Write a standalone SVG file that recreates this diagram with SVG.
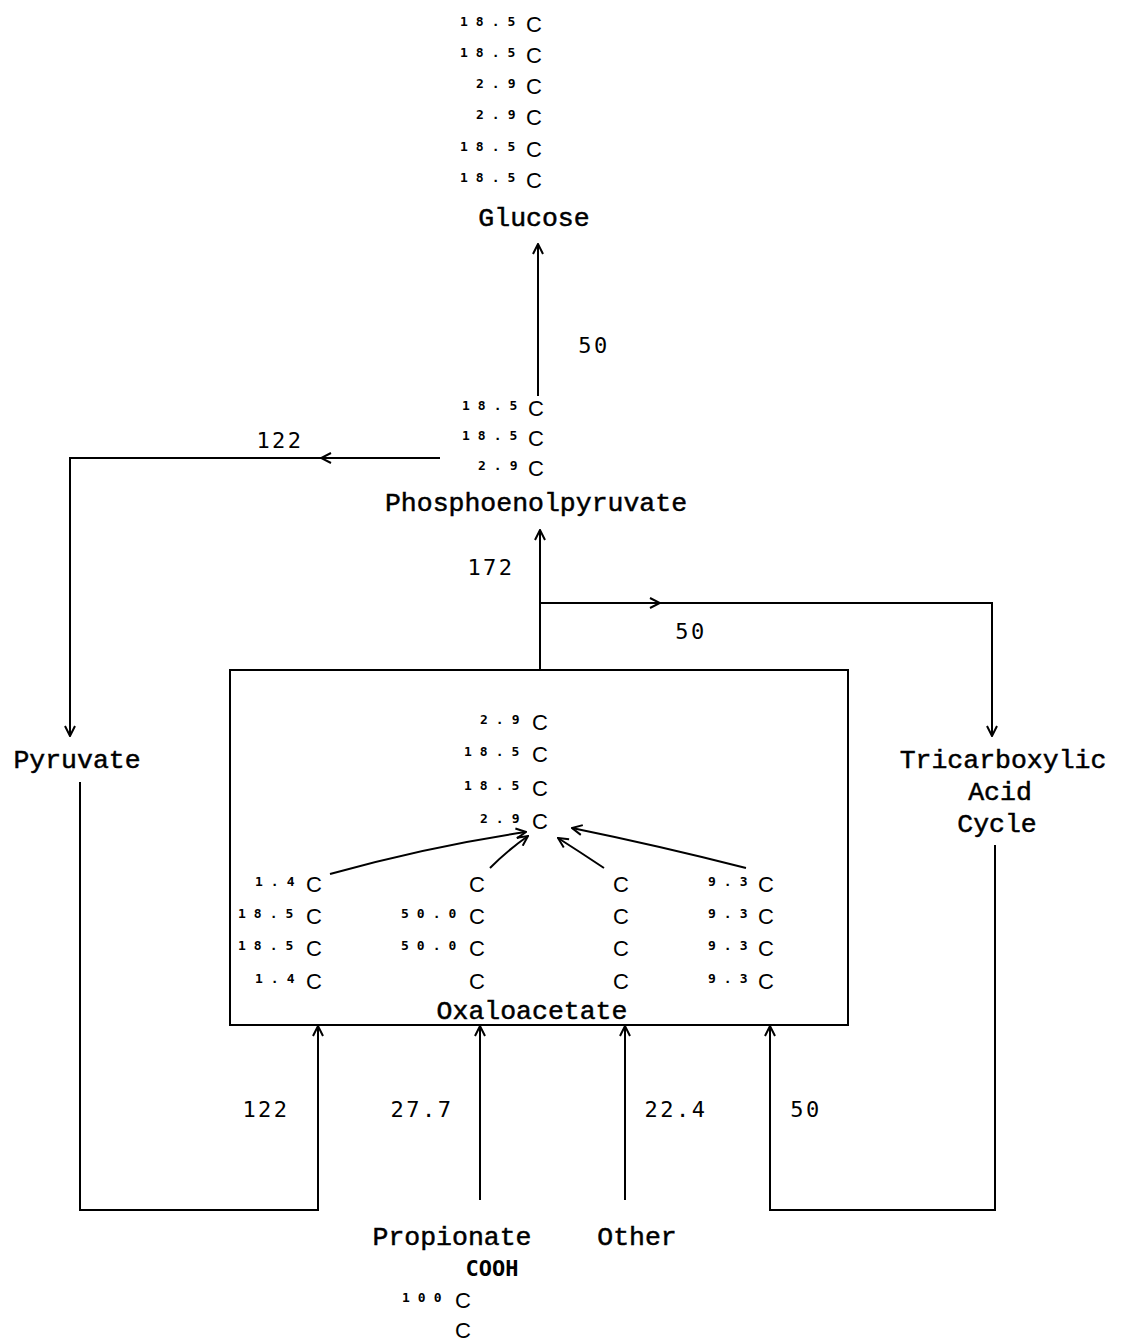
<svg xmlns="http://www.w3.org/2000/svg" width="1126" height="1343" viewBox="0 0 1126 1343">
<style>
.lbl{font-family:"Liberation Mono","Courier New",monospace;font-size:26.5px;fill:#000;stroke:#000;stroke-width:0.5;text-anchor:middle}
.c{font-family:"Liberation Sans",Arial,sans-serif;font-size:22px;fill:#000}
.sup{font-family:"DejaVu Sans Mono",monospace;font-size:13px;font-weight:bold;letter-spacing:8px;fill:#000}
.num{font-family:"DejaVu Sans Mono",monospace;font-size:22px;letter-spacing:2.5px;fill:#000;text-anchor:middle}
.ln{fill:none;stroke:#000;stroke-width:2}
</style>
<defs>
<marker id="ah" viewBox="0 0 12 12" refX="11" refY="6" markerWidth="12" markerHeight="12" markerUnits="userSpaceOnUse" orient="auto">
<path d="M1,1 L11,6 L1,11" fill="none" stroke="#000" stroke-width="2"/>
</marker>
</defs>
<rect width="1126" height="1343" fill="#fff"/>

<g id="glucose">
<text class="sup" x="460" y="26">18.5</text><text class="c" x="526" y="32">C</text>
<text class="sup" x="460" y="57">18.5</text><text class="c" x="526" y="63">C</text>
<text class="sup" x="476" y="88">2.9</text><text class="c" x="526" y="94">C</text>
<text class="sup" x="476" y="119">2.9</text><text class="c" x="526" y="125">C</text>
<text class="sup" x="460" y="151">18.5</text><text class="c" x="526" y="157">C</text>
<text class="sup" x="460" y="182">18.5</text><text class="c" x="526" y="188">C</text>
<text class="lbl" x="534" y="226">Glucose</text>
</g>

<g id="pep">
<text class="sup" x="462" y="410">18.5</text><text class="c" x="528" y="416">C</text>
<text class="sup" x="462" y="440">18.5</text><text class="c" x="528" y="446">C</text>
<text class="sup" x="478" y="470">2.9</text><text class="c" x="528" y="476">C</text>
<text class="lbl" x="536" y="511">Phosphoenolpyruvate</text>
</g>

<g id="pyruvate">
<text class="lbl" x="77" y="768">Pyruvate</text>
</g>

<g id="tca">
<text class="lbl" x="1003" y="768">Tricarboxylic</text>
<text class="lbl" x="1000" y="800">Acid</text>
<text class="lbl" x="997" y="832">Cycle</text>
</g>

<g id="oxaloacetate">
<rect class="ln" x="230" y="670" width="618" height="355"/>
<text class="sup" x="480" y="724">2.9</text><text class="c" x="532" y="730">C</text>
<text class="sup" x="464" y="756">18.5</text><text class="c" x="532" y="762">C</text>
<text class="sup" x="464" y="790">18.5</text><text class="c" x="532" y="796">C</text>
<text class="sup" x="480" y="823">2.9</text><text class="c" x="532" y="829">C</text>

<text class="sup" x="255" y="886">1.4</text><text class="c" x="306" y="892">C</text>
<text class="sup" x="238" y="918">18.5</text><text class="c" x="306" y="924">C</text>
<text class="sup" x="238" y="950">18.5</text><text class="c" x="306" y="956">C</text>
<text class="sup" x="255" y="983">1.4</text><text class="c" x="306" y="989">C</text>

<text class="c" x="469" y="892">C</text>
<text class="sup" x="401" y="918">50.0</text><text class="c" x="469" y="924">C</text>
<text class="sup" x="401" y="950">50.0</text><text class="c" x="469" y="956">C</text>
<text class="c" x="469" y="989">C</text>

<text class="c" x="613" y="892">C</text>
<text class="c" x="613" y="924">C</text>
<text class="c" x="613" y="956">C</text>
<text class="c" x="613" y="989">C</text>

<text class="sup" x="708" y="886">9.3</text><text class="c" x="758" y="892">C</text>
<text class="sup" x="708" y="918">9.3</text><text class="c" x="758" y="924">C</text>
<text class="sup" x="708" y="950">9.3</text><text class="c" x="758" y="956">C</text>
<text class="sup" x="708" y="983">9.3</text><text class="c" x="758" y="989">C</text>

<text class="lbl" x="532" y="1019">Oxaloacetate</text>
</g>

<g id="propionate">
<text class="lbl" x="452" y="1245">Propionate</text>
<text class="num" x="492" y="1276" style="letter-spacing:0;font-weight:bold">COOH</text>
<text class="sup" x="402" y="1302">100</text><text class="c" x="455" y="1308">C</text>
<text class="c" x="455" y="1338">C</text>
</g>

<g id="other">
<text class="lbl" x="637" y="1245">Other</text>
</g>

<g id="connectors">
<path class="ln" d="M538,396 V244" marker-end="url(#ah)"/>
<text class="num" x="594" y="353">50</text>

<path class="ln" d="M440,458 H70 V736"/>
<path class="ln" d="M330,458 H321" marker-end="url(#ah)"/>
<path class="ln" d="M70,725 V736" marker-end="url(#ah)"/>
<text class="num" x="280" y="448">122</text>

<path class="ln" d="M540,670 V530" marker-end="url(#ah)"/>
<text class="num" x="491" y="575">172</text>

<path class="ln" d="M540,603 H992 V736"/>
<path class="ln" d="M650,603 H660" marker-end="url(#ah)"/>
<path class="ln" d="M992,725 V736" marker-end="url(#ah)"/>
<text class="num" x="691" y="639">50</text>

<path class="ln" d="M80,782 V1210 H318 V1026" marker-end="url(#ah)"/>
<text class="num" x="266" y="1117">122</text>

<path class="ln" d="M480,1200 V1026" marker-end="url(#ah)"/>
<text class="num" x="422" y="1117">27.7</text>

<path class="ln" d="M625,1200 V1026" marker-end="url(#ah)"/>
<text class="num" x="676" y="1117">22.4</text>

<path class="ln" d="M995,845 V1210 H770 V1026" marker-end="url(#ah)"/>
<text class="num" x="806" y="1117">50</text>

<path class="ln" d="M330,874 Q430,846 526,832" marker-end="url(#ah)"/>
<path class="ln" d="M490,868 Q508,850 528,836" marker-end="url(#ah)"/>
<path class="ln" d="M604,868 Q580,852 558,838" marker-end="url(#ah)"/>
<path class="ln" d="M746,868 Q660,846 572,828" marker-end="url(#ah)"/>
</g>
</svg>
